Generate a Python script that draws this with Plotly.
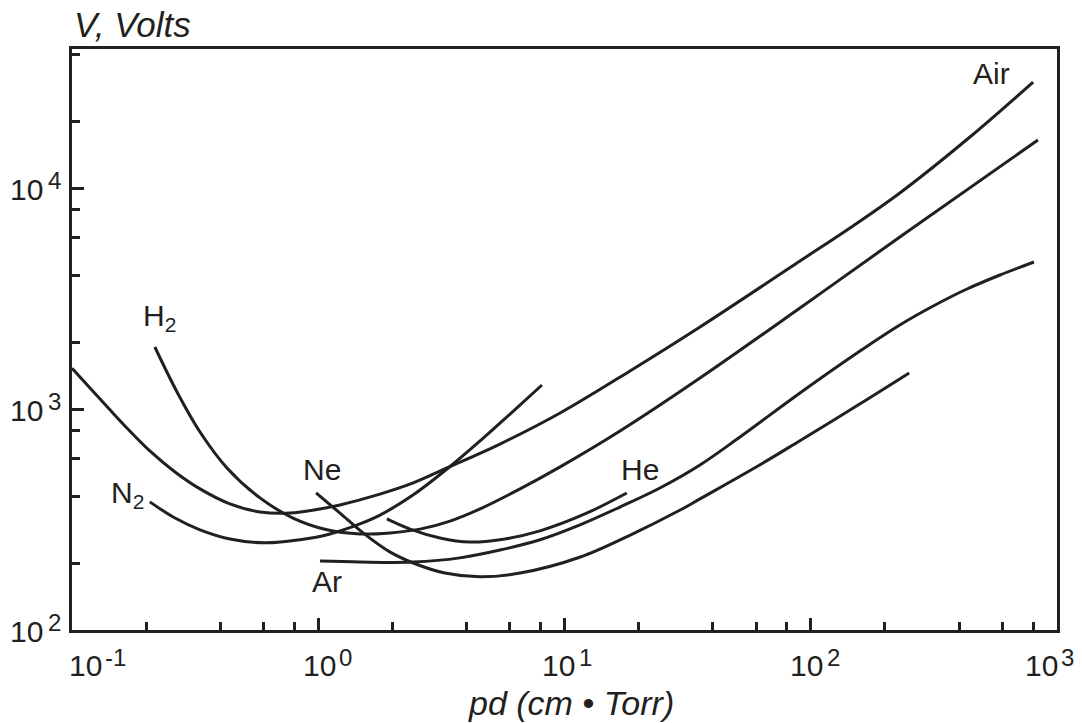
import numpy as np
import plotly.graph_objects as go

# Paschen breakdown curves: product pd in cm·Torr, breakdown voltage in volts
air_pd = [0.1, 0.13, 0.164, 0.207, 0.262, 0.331, 0.438, 0.58, 0.768, 1.016, 1.225,
          1.78, 2.43, 3.33, 5.47, 9.6, 18.45, 35.5, 90.4, 144.3, 230, 443, 800]
air_v = [1530, 1110, 838, 646, 519, 435, 372, 342, 338, 353, 368,
         412, 463, 541, 694, 959, 1486, 2350, 4674, 6592, 9493, 17010, 30160]

n2_pd = [0.207, 0.262, 0.331, 0.438, 0.608, 0.843, 1.116, 1.477, 1.781, 2.425,
         3.333, 4.54, 6.01, 8.1]
n2_v = [380, 321, 284, 258, 248, 256, 272, 302, 331, 408, 535, 717, 949, 1284]

h2_pd = [0.217, 0.267, 0.331, 0.426, 0.58, 0.79, 1.085, 1.477, 1.956, 2.59, 3.43,
         4.54, 6.6, 9.6, 16.8, 35.5, 90.4, 230, 837]
h2_v = [1908, 1194, 787, 541, 396, 321, 284, 272, 275, 286, 311,
        353, 435, 547, 795, 1381, 2864, 6001, 16490]

he_pd = [1.9, 2.36, 3.12, 4.13, 5.47, 7.95, 12.1, 17.9]
he_v = [318, 286, 261, 250, 256, 281, 335, 417]

ne_pd = [0.98, 1.225, 1.52, 1.96, 2.43, 3.27, 4.54, 6.6, 11.6, 18.5, 29.5, 35.5,
         62, 90, 158, 251]
ne_v = [417, 338, 275, 225, 201, 181, 174, 181, 214, 269, 349, 392,
        558, 717, 1053, 1456]

ar_pd = [1.016, 1.477, 2.43, 3.76, 5.47, 7.95, 11.56, 16.8, 24.4, 35.5, 51.6, 90.4,
         158.5, 230, 320, 431, 587, 806]
ar_v = [205, 203, 203, 212, 230, 256, 299, 360, 439, 558, 747, 1182,
        1830, 2400, 2955, 3491, 4039, 4626]

# Gas names written next to the curves, and where they sit (pd, V)
gas_labels = ["Air", "H<sub>2</sub>", "N<sub>2</sub>", "Ne", "He", "Ar"]
gas_label_pd = [540, 0.2266, 0.168, 1.04, 20.3, 1.085]
gas_label_v = [32800, 2581, 412, 535, 535, 165]

# Decade tick labels (10 with a raised exponent)
x_decades = [0.1, 1, 10, 100, 1000]
x_exponents = ["-1", "0", "1", "2", "3"]
y_decades = [100, 1000, 10000]
y_exponents = ["2", "3", "4"]

x_title = "pd (cm • Torr)"
y_title = "V, Volts"

INK = "#231f20"
FONT = "Liberation Sans, Arial, sans-serif"

fig = go.Figure()

curves = [
    ("Air", air_pd, air_v),
    ("N2", n2_pd, n2_v),
    ("H2", h2_pd, h2_v),
    ("He", he_pd, he_v),
    ("Ne", ne_pd, ne_v),
    ("Ar", ar_pd, ar_v),
]
for name, pd_vals, v_vals in curves:
    fig.add_trace(go.Scatter(
        x=pd_vals, y=v_vals, mode="lines", name=name, showlegend=False,
        hoverinfo="skip",
        line=dict(color=INK, width=3, shape="spline", smoothing=1.0),
    ))

x_minor = [m * 10.0 ** e for e in range(-1, 3) for m in (2, 4, 6, 8)]
y_minor = [m * 10.0 ** e for e in range(2, 5) for m in (2, 4, 6, 8)]

axis_common = dict(
    type="log", showgrid=False, zeroline=False,
    showline=True, linecolor=INK, linewidth=3, mirror=True,
    ticks="inside", ticklen=12, tickwidth=3, tickcolor=INK,
    showticklabels=False,
)

fig.update_xaxes(
    **axis_common, range=[-1, 3], tickmode="array", tickvals=x_decades,
    minor=dict(ticks="inside", ticklen=8, tickwidth=3, tickcolor=INK,
               tickmode="array", tickvals=x_minor),
)
fig.update_yaxes(
    **axis_common, range=[2, 2 + 581 / 221], tickmode="array", tickvals=y_decades,
    minor=dict(ticks="inside", ticklen=8, tickwidth=3, tickcolor=INK,
               tickmode="array", tickvals=y_minor),
)

annotations = []

# curve names
for text, px_, vy in zip(gas_labels, gas_label_pd, gas_label_v):
    annotations.append(dict(
        x=np.log10(px_), y=np.log10(vy), xref="x", yref="y", text=text,
        showarrow=False, xanchor="center", yanchor="middle",
        font=dict(family=FONT, size=30, color=INK),
    ))

# x decade labels: base "10" and its exponent
base_shift_x = [13, 1, -6, -4, -16]
for val, expo, sh in zip(x_decades, x_exponents, base_shift_x):
    annotations.append(dict(
        x=np.log10(val), y=0, xref="x", yref="paper", text="10",
        showarrow=False, xanchor="center", yanchor="middle",
        xshift=sh, yshift=-35, font=dict(family=FONT, size=30, color=INK),
    ))
    annotations.append(dict(
        x=np.log10(val), y=0, xref="x", yref="paper", text=expo,
        showarrow=False, xanchor="left", yanchor="middle",
        xshift=sh + 18, yshift=-27, font=dict(family=FONT, size=24, color=INK),
    ))

# y decade labels
for val, expo in zip(y_decades, y_exponents):
    annotations.append(dict(
        x=0, y=np.log10(val), xref="paper", yref="y", text="10",
        showarrow=False, xanchor="right", yanchor="middle",
        xshift=-27, yshift=-1, font=dict(family=FONT, size=30, color=INK),
    ))
    annotations.append(dict(
        x=0, y=np.log10(val), xref="paper", yref="y", text=expo,
        showarrow=False, xanchor="left", yanchor="middle",
        xshift=-26, yshift=8, font=dict(family=FONT, size=24, color=INK),
    ))

# axis titles
annotations.append(dict(
    x=0, y=1, xref="paper", yref="paper", text=f"<i>{y_title}</i>",
    showarrow=False, xanchor="left", yanchor="middle", xshift=0, yshift=25,
    font=dict(family=FONT, size=35, color=INK),
))
annotations.append(dict(
    x=(571 - 72) / 985, y=0, xref="paper", yref="paper", text=f"<i>{x_title}</i>",
    showarrow=False, xanchor="center", yanchor="middle", yshift=-73,
    font=dict(family=FONT, size=34, color=INK),
))

fig.update_layout(
    width=1082, height=723,
    margin=dict(l=72, r=25, t=49, b=93),
    paper_bgcolor="white", plot_bgcolor="white",
    annotations=annotations,
    font=dict(family=FONT, color=INK),
)

fig.write_html("out.html")
